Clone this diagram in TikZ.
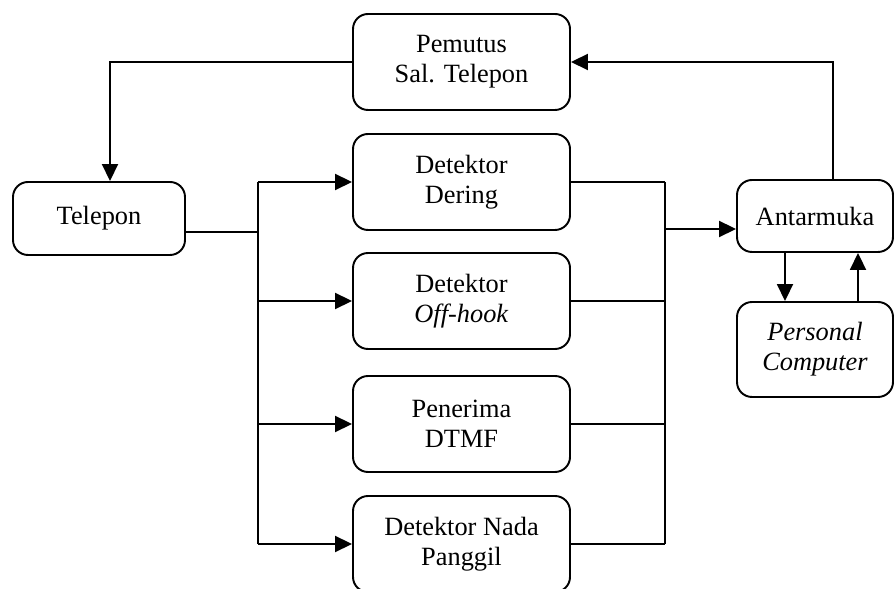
\documentclass[tikz,border=0pt]{standalone}
\usepackage{fontspec}
\setmainfont{Liberation Serif}
\usepackage{tikz}
\usetikzlibrary{arrows.meta,positioning,calc}

\tikzset{
  blok/.style={draw,line width=1.1pt,rounded corners=0.3cm,align=center,
    font=\fontsize{15}{17}\selectfont},
  blokbesar/.style={blok,minimum width=4.34cm,minimum height=1.92cm},
  garis/.style={line width=1.1pt},
  panah/.style={garis,-{Triangle[length=0.34cm,width=0.32cm]}}
}

\begin{document}
\begin{tikzpicture}
  \useasboundingbox (0,0) rectangle (17.9,11.78);

  % blok-blok tengah
  \node[blokbesar] (pemutus) at (9.23,10.54) {Pemutus\\Sal. Telepon};
  \node[blokbesar] (dering)  at (9.23,8.14)  {Detektor\\Dering};
  \node[blokbesar] (offhook) at (9.23,5.76)  {Detektor\\\textit{Off-hook}};
  \node[blokbesar] (dtmf)    at (9.23,3.30)  {Penerima\\DTMF};
  \node[blokbesar] (nada)    at (9.23,0.90)  {Detektor Nada\\Panggil};

  % telepon, antarmuka, PC
  \node[blok,minimum width=3.44cm,minimum height=1.46cm] (telepon) at (1.98,7.41) {Telepon};
  \node[blok,minimum width=3.12cm,minimum height=1.44cm] (antarmuka) at (16.3,7.46) {Antarmuka};
  \node[blok,minimum width=3.12cm,minimum height=1.90cm] (pc) at (16.3,4.79) {\textit{Personal}\\\textit{Computer}};

  \coordinate (busL) at (5.16,0);
  \coordinate (busR) at (13.3,0);

  % pemutus ke telepon, antarmuka ke pemutus
  \draw[panah] (pemutus.west) -| ([xshift=0.22cm]telepon.north);
  \draw[panah] ([xshift=0.36cm]antarmuka.north) |- (pemutus.east);

  % telepon ke detektor
  \draw[garis] ([yshift=-0.27cm]telepon.east) -- ([yshift=-0.27cm]telepon.east -| busL);
  \draw[garis] (busL |- dering) -- (busL |- nada);
  \foreach \n in {dering,offhook,dtmf,nada}
    \draw[panah] (busL |- \n) -- (\n.west);

  % detektor ke antarmuka
  \foreach \n in {dering,offhook,dtmf,nada}
    \draw[garis] (\n.east) -- (\n.east -| busR);
  \draw[garis] (busR |- dering) -- (busR |- nada);
  \draw[panah] ([yshift=-0.26cm]antarmuka.west -| busR) -- ([yshift=-0.26cm]antarmuka.west);

  % antarmuka dan PC
  \draw[panah] ([xshift=-0.6cm]antarmuka.south) -- ([xshift=-0.6cm]pc.north);
  \draw[panah] ([xshift=0.86cm]pc.north) -- ([xshift=0.86cm]antarmuka.south);
\end{tikzpicture}
\end{document}
